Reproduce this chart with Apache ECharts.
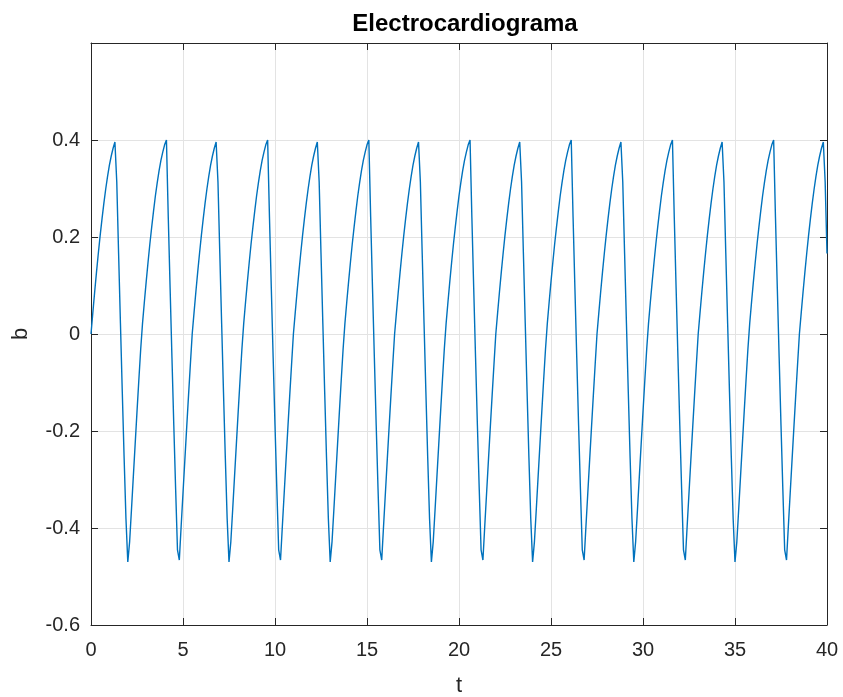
<!DOCTYPE html>
<html>
<head>
<meta charset="utf-8">
<script src="https://cdn.jsdelivr.net/npm/echarts@6/dist/echarts.min.js"></script>
<style>
html,body{margin:0;padding:0;background:#fff;}
#c{width:843px;height:697px;}
</style>
</head>
<body>
<div id="c"></div>
<script>
// Sample step of the time axis (s)
const dt = 0.1;
// Signal b at each sample (t = 0, 0.1, ..., 40)
const bValues = [
0.000,0.044,0.087,0.128,0.167,0.204,0.238,0.270,0.299,0.325,0.348,0.367,0.383,0.396,0.314,0.166,0.022,-0.119,-0.255,-0.381,-0.470,-0.428,-0.362,-0.294,-0.227,-0.160,-0.095,-0.032,0.022,0.066,0.108,0.148,0.186,0.221,0.254,0.285,0.312,0.337,0.358,0.375,0.390,0.400,0.240,0.094,-0.049,-0.188,-0.320,-0.445,-0.466,-0.396,-0.328,-0.260,-0.193,-0.127,-0.063,
0.000,0.044,0.087,0.128,0.167,0.204,0.238,0.270,0.299,0.325,0.348,0.367,0.383,0.396,0.314,0.166,0.022,-0.119,-0.255,-0.381,-0.470,-0.428,-0.362,-0.294,-0.227,-0.160,-0.095,-0.032,0.022,0.066,0.108,0.148,0.186,0.221,0.254,0.285,0.312,0.337,0.358,0.375,0.390,0.400,0.240,0.094,-0.049,-0.188,-0.320,-0.445,-0.466,-0.396,-0.328,-0.260,-0.193,-0.127,-0.063,
0.000,0.044,0.087,0.128,0.167,0.204,0.238,0.270,0.299,0.325,0.348,0.367,0.383,0.396,0.314,0.166,0.022,-0.119,-0.255,-0.381,-0.470,-0.428,-0.362,-0.294,-0.227,-0.160,-0.095,-0.032,0.022,0.066,0.108,0.148,0.186,0.221,0.254,0.285,0.312,0.337,0.358,0.375,0.390,0.400,0.240,0.094,-0.049,-0.188,-0.320,-0.445,-0.466,-0.396,-0.328,-0.260,-0.193,-0.127,-0.063,
0.000,0.044,0.087,0.128,0.167,0.204,0.238,0.270,0.299,0.325,0.348,0.367,0.383,0.396,0.314,0.166,0.022,-0.119,-0.255,-0.381,-0.470,-0.428,-0.362,-0.294,-0.227,-0.160,-0.095,-0.032,0.022,0.066,0.108,0.148,0.186,0.221,0.254,0.285,0.312,0.337,0.358,0.375,0.390,0.400,0.240,0.094,-0.049,-0.188,-0.320,-0.445,-0.466,-0.396,-0.328,-0.260,-0.193,-0.127,-0.063,
0.000,0.044,0.087,0.128,0.167,0.204,0.238,0.270,0.299,0.325,0.348,0.367,0.383,0.396,0.314,0.166,0.022,-0.119,-0.255,-0.381,-0.470,-0.428,-0.362,-0.294,-0.227,-0.160,-0.095,-0.032,0.022,0.066,0.108,0.148,0.186,0.221,0.254,0.285,0.312,0.337,0.358,0.375,0.390,0.400,0.240,0.094,-0.049,-0.188,-0.320,-0.445,-0.466,-0.396,-0.328,-0.260,-0.193,-0.127,-0.063,
0.000,0.044,0.087,0.128,0.167,0.204,0.238,0.270,0.299,0.325,0.348,0.367,0.383,0.396,0.314,0.166,0.022,-0.119,-0.255,-0.381,-0.470,-0.428,-0.362,-0.294,-0.227,-0.160,-0.095,-0.032,0.022,0.066,0.108,0.148,0.186,0.221,0.254,0.285,0.312,0.337,0.358,0.375,0.390,0.400,0.240,0.094,-0.049,-0.188,-0.320,-0.445,-0.466,-0.396,-0.328,-0.260,-0.193,-0.127,-0.063,
0.000,0.044,0.087,0.128,0.167,0.204,0.238,0.270,0.299,0.325,0.348,0.367,0.383,0.396,0.314,0.166,0.022,-0.119,-0.255,-0.381,-0.470,-0.428,-0.362,-0.294,-0.227,-0.160,-0.095,-0.032,0.022,0.066,0.108,0.148,0.186,0.221,0.254,0.285,0.312,0.337,0.358,0.375,0.390,0.400,0.240,0.094,-0.049,-0.188,-0.320,-0.445,-0.466,-0.396,-0.328,-0.260,-0.193,-0.127,-0.063,
0.000,0.044,0.087,0.128,0.167,0.204,0.238,0.270,0.299,0.325,0.348,0.367,0.383,0.396,0.314,0.166
];
// Tick labels
const xTicks = ['0','5','10','15','20','25','30','35','40'];
const yTicks = ['-0.6','-0.4','-0.2','0','0.2','0.4'];
const titleText = 'Electrocardiograma';
const xName = 't';
const yName = 'b';

const series = bValues.map((v, i) => [+(i * dt).toFixed(1), v]);

const axisColor = '#262626';
const gridColor = '#e3e3e3';
const font = 'Liberation Sans, Arial, Helvetica, sans-serif';

const chart = echarts.init(document.getElementById('c'), null, {renderer: 'canvas'});
chart.setOption({
  animation: false,
  backgroundColor: '#ffffff',
  title: {
    text: titleText,
    left: 460, top: 7, textAlign: 'center',
    textStyle: {fontFamily: font, fontSize: 24, fontWeight: 'bold', color: '#000'}
  },
  grid: {left: 91, right: 16, top: 43, bottom: 72, containLabel: false, outerBoundsMode: 'none'},
  xAxis: [{
    type: 'value', min: 0, max: 40, interval: 5, position: 'bottom',
    name: xName, nameLocation: 'middle', nameGap: 50,
    nameTextStyle: {fontFamily: font, fontSize: 22, color: axisColor},
    axisLine: {show: true, onZero: false, lineStyle: {color: axisColor, width: 1}},
    axisTick: {show: true, inside: true, length: 7, lineStyle: {color: axisColor}},
    axisLabel: {fontFamily: font, fontSize: 20, color: axisColor, margin: 15,
      formatter: v => xTicks.includes(String(v)) ? String(v) : ''},
    splitLine: {show: true, lineStyle: {color: gridColor, width: 1}}
  }, {
    type: 'value', min: 0, max: 40, interval: 5, position: 'top',
    axisLine: {show: true, onZero: false, lineStyle: {color: axisColor, width: 1}},
    axisTick: {show: true, inside: true, length: 7, lineStyle: {color: axisColor}},
    axisLabel: {show: false}, splitLine: {show: false}
  }],
  yAxis: [{
    type: 'value', min: -0.6, max: 0.6, interval: 0.2, position: 'left',
    name: yName, nameLocation: 'middle', nameGap: 59,
    nameTextStyle: {fontFamily: font, fontSize: 22, color: axisColor},
    axisLine: {show: true, onZero: false, lineStyle: {color: axisColor, width: 1}},
    axisTick: {show: true, inside: true, length: 7, lineStyle: {color: axisColor}},
    axisLabel: {fontFamily: font, fontSize: 20, color: axisColor, margin: 11,
      formatter: v => {
        const s = String(Math.round(v * 10) / 10);
        return yTicks.includes(s) ? s : '';
      }},
    splitLine: {show: true, lineStyle: {color: gridColor, width: 1}}
  }, {
    type: 'value', min: -0.6, max: 0.6, interval: 0.2, position: 'right',
    axisLine: {show: true, onZero: false, lineStyle: {color: axisColor, width: 1}},
    axisTick: {show: true, inside: true, length: 7, lineStyle: {color: axisColor}},
    axisLabel: {show: false}, splitLine: {show: false}
  }],
  series: [{
    type: 'line', step: 'end', data: series,
    xAxisIndex: 0, yAxisIndex: 0,
    showSymbol: false, symbol: 'none',
    lineStyle: {color: '#0072BD', width: 1.4},
    z: 3
  }]
});
</script>
</body>
</html>
